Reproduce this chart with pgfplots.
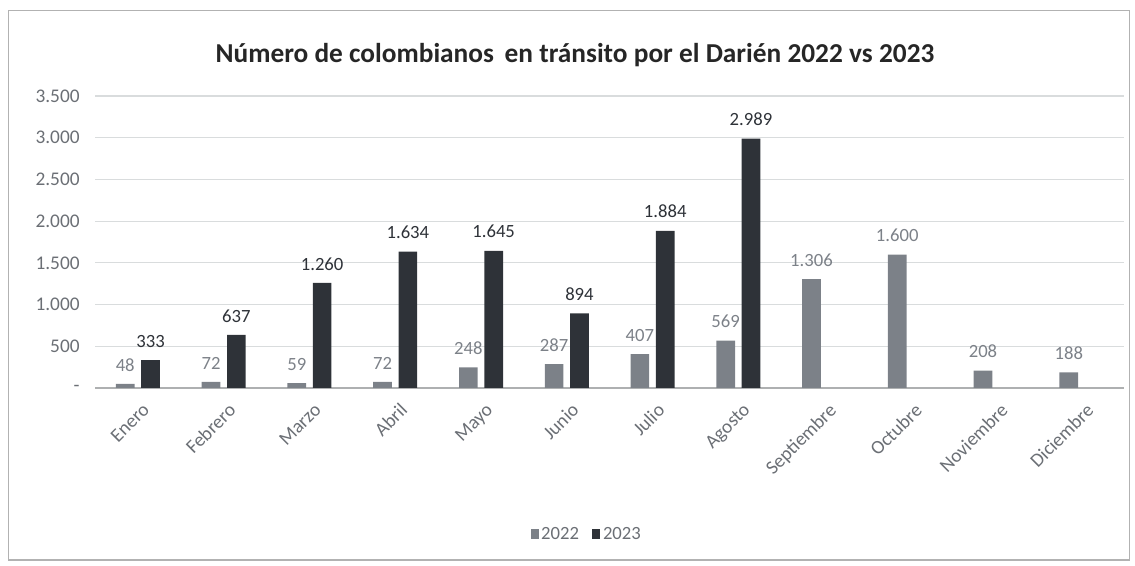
\documentclass[border=0pt]{standalone}
\usepackage{pgfplots}
\pgfplotsset{compat=1.18}
\usepackage{fontspec}
\setmainfont{Carlito}
\definecolor{c22}{HTML}{7C8188}
\definecolor{c23}{HTML}{2E3238}
\definecolor{tickc}{HTML}{6B6F75}
\definecolor{gridc}{HTML}{D9DCDD}
\begin{document}
\begin{tikzpicture}
\begin{axis}[
    name=ax,
    at={(0,0)}, anchor=south west,
    scale only axis,
    width=772pt, height=219pt,
    ymin=0, ymax=3500,
    xmin=-0.5, xmax=11.5,
    ytick={0,500,...,3500},
    yticklabels={-,500,1.000,1.500,2.000,2.500,3.000,3.500},
    xtick={0,...,11},
    xticklabels={Enero,Febrero,Marzo,Abril,Mayo,Junio,Julio,Agosto,Septiembre,Octubre,Noviembre,Diciembre},
    major tick length=0pt,
    ymajorgrids=true,
    grid style={gridc, line width=0.8pt},
    axis x line*=bottom,
    axis y line*=left,
    x axis line style={gridc!80!black, line width=0.8pt},
    y axis line style={draw=none},
    tick label style={font=\fontsize{14.5}{16}\selectfont, text=tickc},
    yticklabel style={anchor=east, xshift=-8pt},
    xticklabel style={rotate=45, anchor=north east, yshift=-6pt, xshift=-2pt},
    ybar, bar width=14pt,
    nodes near coords,
    every node near coord/.append style={font=\fontsize{14}{16}\selectfont, yshift=6pt},
    /pgf/number format/.cd, 1000 sep={.}, assume math mode=true, /pgfplots/.cd,
    legend columns=2,
    legend style={at={(0.478,-0.5)}, anchor=center, draw=none,
        font=\fontsize{14}{16}\selectfont, text=tickc,
        /tikz/every even column/.append style={column sep=8pt}},
    legend image code/.code={\fill[#1] (0pt,-4pt) rectangle (6pt,4pt);},
]
\addplot[fill=c22, draw=none, bar shift=-9.5pt,
    every node near coord/.append style={text=c22}]
    coordinates {(0,48)(1,72)(2,59)(3,72)(4,248)(5,287)(6,407)(7,569)(8,1306)(9,1600)(10,208)(11,188)};
\addplot[fill=c23, draw=none, bar shift=9.5pt,
    every node near coord/.append style={text=c23}]
    coordinates {(0,333)(1,637)(2,1260)(3,1634)(4,1645)(5,894)(6,1884)(7,2989)};
\legend{2022,2023}
\end{axis}
\node[font=\bfseries\fontsize{20.5}{24}\selectfont, text=black!85] at ([shift={(360pt,250pt)}]ax.south west) {Número de colombianos\, en tránsito por el Darién 2022 vs 2023};
\draw[gray!60, line width=0.8pt] ([shift={(-65pt,-129pt)}]ax.south west) rectangle ([shift={(776pt,283pt)}]ax.south west);
\useasboundingbox ([shift={(-71.25pt,-133.5pt)}]ax.south west) rectangle ([shift={(780pt,291pt)}]ax.south west);
\end{tikzpicture}
\end{document}
